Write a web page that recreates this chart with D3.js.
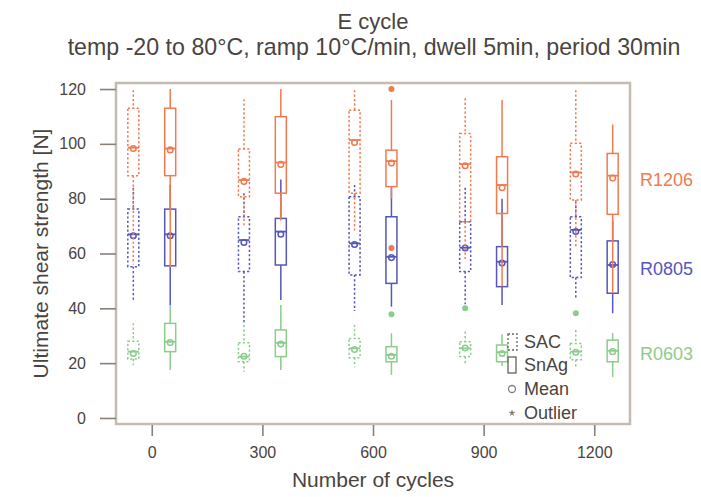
<!DOCTYPE html>
<html><head><meta charset="utf-8">
<script src="https://cdn.jsdelivr.net/npm/d3@7"></script>
<style>body{margin:0;background:#fff}svg{display:block;font-family:"Liberation Sans",Arial,sans-serif}</style>
</head><body><svg id="c" width="701" height="497"></svg>
<script>
// ---- data ----
const cycles = [0, 300, 600, 900, 1200];
const components = ["R1206", "R0805", "R0603"];
const solders = ["SAC", "SnAg"];
const yTicks = [0, 20, 40, 60, 80, 100, 120];
// each row: [lowWhisker, q1, median, q3, highWhisker, mean] per cycle
const R1206_SAC  = [[56,88.4,98.6,113,119.6,98.3],[70,80.7,86.8,98.1,116.3,86.3],[68,82,101.4,112.3,119.6,100.5],[58,71.6,92.6,103.8,116.6,92],[62,79.5,89.6,100.2,119.6,89]];
const R1206_SnAg = [[55,88.4,98.3,113,120,97.8],[72,82,93.2,109.9,120,92.5],[80,84.4,93.7,97.7,116,93],[48,74.6,85,95.3,116,84],[45.5,74.3,88.4,96.5,107.1,87.5]];
const R0805_SAC  = [[42.4,55.2,67,76.2,84,66.5],[34.6,53.4,64.9,73.4,82,64],[39,52.2,63.7,80.7,85,63.3],[41.5,53.4,62.1,71.6,84,62],[43.6,51.2,68.6,73.4,79,68]];
const R0805_SnAg = [[41.2,55.5,67,76.2,85,66.5],[43,55.8,68,72.8,87,67],[40.6,49.1,58.8,73.4,84,58.5],[41.2,47.9,57,62.5,80,56.5],[38.2,45.5,55.8,64.6,72,56]];
const R0603_SAC  = [[19.3,21.5,24.2,28,34.6,23.5],[16.9,20.5,22.4,27.4,33.9,22.5],[18.5,22,25.4,29,34,25],[19.5,22.4,25.4,27.8,31.5,25.5],[18.7,21.2,24.2,27.2,32.1,24]];
const R0603_SnAg = [[17.5,24.2,27.8,34.5,41.2,27.5],[17.5,22.4,27.4,32.1,41.2,27],[15.7,20.5,23,26,30.9,22.5],[19,20.5,24,26.6,30.5,23.5],[15,20.5,24.5,28.4,31,24.2]];
const outlierComp   = ["R1206", "R1206", "R0603", "R0603", "R0603"];
const outlierSolder = ["SnAg",  "SnAg",  "SnAg",  "SAC",   "SAC"];
const outlierCycle  = [600, 600, 600, 900, 1200];
const outlierValue  = [120, 62, 37.8, 40, 38.2];
const legendLabels = ["SAC", "SnAg", "Mean", "Outlier"];

const stats = {
  R1206: {SAC: R1206_SAC, SnAg: R1206_SnAg},
  R0805: {SAC: R0805_SAC, SnAg: R0805_SnAg},
  R0603: {SAC: R0603_SAC, SnAg: R0603_SnAg}
};
const colors = {R1206: "#f27a4e", R0805: "#5656bb", R0603: "#8ccc8c"};
const labelY = {R1206: 87, R0805: 54.3, R0603: 23.3};

const svg = d3.select("#c");
const L = 116, R = 630, T = 83, B = 424;
const x = d3.scaleLinear().domain([-97, 1297]).range([L, R]);
const y = d3.scaleLinear().domain([-2.2, 122.2]).range([B, T]);
const offset = {SAC: -50, SnAg: 50};
const bw = 11;
const textCol = "#4a4440";

// boxes
const order = ["R0603", "R0805", "R1206"];
order.forEach(comp => {
  solders.forEach(sol => {
    const col = colors[comp];
    const dash = sol === "SAC" ? "2.2,2.2" : null;
    stats[comp][sol].forEach((s, i) => {
      const cx = x(cycles[i] + offset[sol]);
      const [lo, q1, med, q3, hi, mean] = s;
      const g = svg.append("g").attr("fill", "none").attr("stroke", col).attr("stroke-width", 1.5);
      g.append("line").attr("x1", cx).attr("x2", cx).attr("y1", y(hi)).attr("y2", y(q3)).attr("stroke-dasharray", dash);
      g.append("line").attr("x1", cx).attr("x2", cx).attr("y1", y(q1)).attr("y2", y(lo)).attr("stroke-dasharray", dash);
      g.append("rect").attr("x", cx - bw / 2).attr("width", bw).attr("y", y(q3)).attr("height", y(q1) - y(q3)).attr("stroke-dasharray", dash);
      g.append("line").attr("x1", cx - bw / 2).attr("x2", cx + bw / 2).attr("y1", y(med)).attr("y2", y(med)).attr("stroke-width", 1.8);
      g.append("circle").attr("cx", cx).attr("cy", y(mean)).attr("r", 2.8);
    });
  });
});
// outliers
outlierValue.forEach((v, i) => {
  svg.append("circle")
    .attr("cx", x(outlierCycle[i] + offset[outlierSolder[i]]))
    .attr("cy", y(v)).attr("r", 3)
    .attr("fill", colors[outlierComp[i]]);
});

// frame
svg.append("rect").attr("x", L).attr("y", T).attr("width", R - L).attr("height", B - T)
  .attr("fill", "none").attr("stroke", "#c4bbb1").attr("stroke-width", 2.5);

// axes
const yAx = svg.append("g").attr("transform", `translate(${L},0)`)
  .call(d3.axisLeft(y).tickValues(yTicks).tickFormat(d3.format("d")).tickSize(16).tickPadding(14));
const xAx = svg.append("g").attr("transform", `translate(0,${B + 1})`)
  .call(d3.axisBottom(x).tickValues(cycles).tickFormat(d3.format("d")).tickSize(11).tickPadding(11));
[yAx, xAx].forEach(a => {
  a.select(".domain").remove();
  a.selectAll("line").attr("stroke", "#8a8078").attr("stroke-width", 1.6);
  a.selectAll("text").attr("fill", textCol).style("font-size", "16px")
    .style("font-family", "'Liberation Sans',Arial,sans-serif");
});

// titles
svg.append("text").attr("x", 373).attr("y", 29).attr("text-anchor", "middle")
  .attr("fill", textCol).style("font-size", "22px").text("E cycle");
svg.append("text").attr("x", 374).attr("y", 55).attr("text-anchor", "middle")
  .attr("fill", textCol).style("font-size", "23.2px")
  .text("temp -20 to 80\u00B0C, ramp 10\u00B0C/min, dwell 5min, period 30min");
svg.append("text").attr("x", 373).attr("y", 487).attr("text-anchor", "middle")
  .attr("fill", textCol).style("font-size", "21px").text("Number of cycles");
svg.append("text").attr("transform", `translate(48,${(T + B) / 2}) rotate(-90)`)
  .attr("text-anchor", "middle").attr("fill", textCol).style("font-size", "21px")
  .text("Ultimate shear strength [N]");

// right labels
components.forEach(c => {
  svg.append("text").attr("x", 640).attr("y", y(labelY[c])).attr("dy", "0.35em")
    .attr("fill", colors[c]).style("font-size", "18px").text(c);
});

// legend
const lx = 512, lys = [342, 365, 389, 413];
const lg = svg.append("g");
lg.append("rect").attr("x", lx - 4).attr("y", lys[0] - 8).attr("width", 9).attr("height", 16)
  .attr("fill", "none").attr("stroke", "#6a625c").attr("stroke-width", 1.3).attr("stroke-dasharray", "2,2");
lg.append("rect").attr("x", lx - 4).attr("y", lys[1] - 8).attr("width", 8).attr("height", 16)
  .attr("fill", "none").attr("stroke", "#6a625c").attr("stroke-width", 1.3);
lg.append("circle").attr("cx", lx).attr("cy", lys[2]).attr("r", 3.5)
  .attr("fill", "none").attr("stroke", "#8a827c").attr("stroke-width", 1.3);
lg.append("path").attr("transform", `translate(${lx},${lys[3]})`)
  .attr("d", d3.symbol(d3.symbolStar, 16)()).attr("fill", "#8a827c");
legendLabels.forEach((t, i) => {
  lg.append("text").attr("x", 524).attr("y", lys[i]).attr("dy", "0.35em")
    .attr("fill", textCol).style("font-size", "18px").text(t);
});
</script></body></html>
